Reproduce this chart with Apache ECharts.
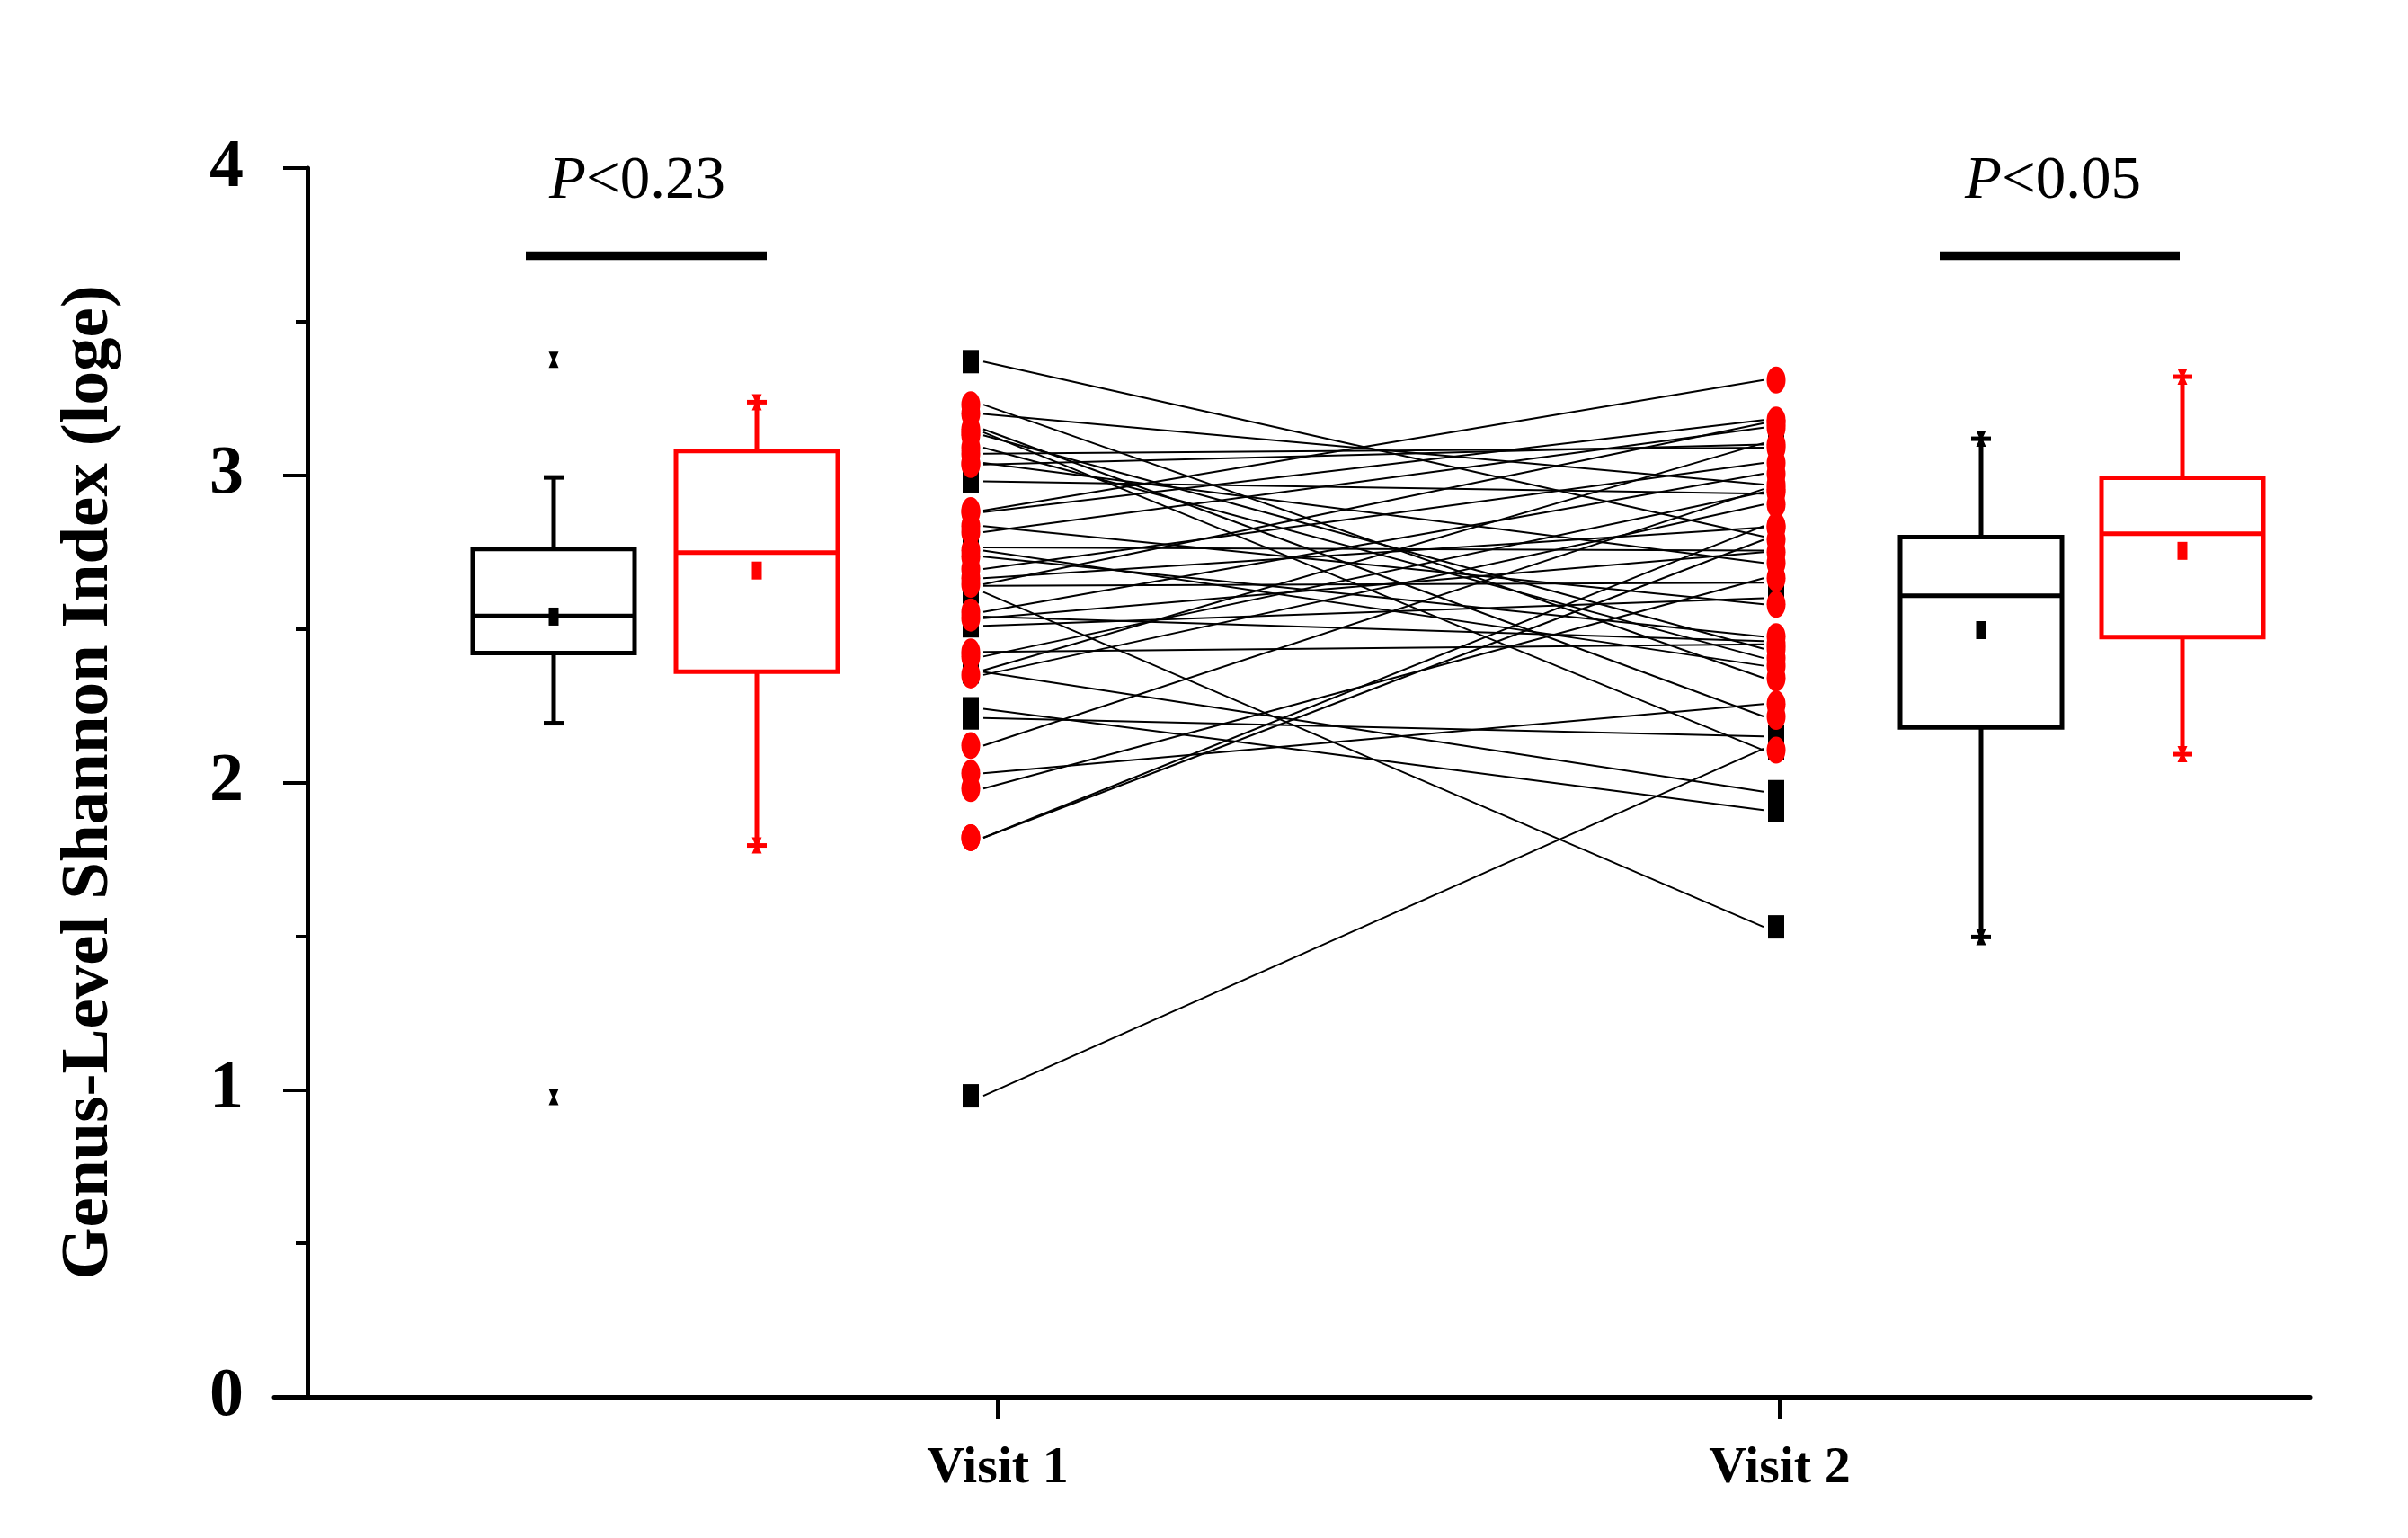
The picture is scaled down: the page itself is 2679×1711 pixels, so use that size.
<!DOCTYPE html>
<html>
<head>
<meta charset="utf-8">
<script src="https://cdn.jsdelivr.net/npm/echarts@6/dist/echarts.min.js"></script>
<style>
html,body{margin:0;padding:0;background:#ffffff;}
#c{width:2679px;height:1711px;}
</style>
</head>
<body>
<div id="c"></div>
<script>
// ---------------- data ----------------
const visitLabels = ['Visit 1', 'Visit 2'];
const yTicks = [0, 1, 2, 3, 4];
const yAxisTitle = 'Genus-Level Shannon Index (loge)';

// paired subjects: group 0 = black squares, group 1 = red circles
const subjectGroup = [0,0,0,0,0,0,0,0,0,0,0,0,
  1,1,1,1,1,1,1,1,1,1,1,1,1,1,1,1,1,1,1,1,1,1,1,1,1,1,1,1];
const visit1Values = [3.37,2.98,2.765,2.64,2.62,2.54,2.51,2.365,2.36,2.24,2.21,0.98,
  2.885,1.82,1.82,3.23,3.20,3.15,3.14,3.13,3.09,3.07,3.04,3.035,2.88,2.835,2.815,2.755,2.735,2.695,2.665,2.645,2.555,2.535,2.425,2.41,2.35,2.12,2.03,1.98];
const visit2Values = [2.80,2.94,2.755,2.65,1.53,2.46,2.60,3.105,1.97,1.91,2.15,2.11,
  3.31,2.835,2.79,2.34,2.97,2.215,2.105,2.435,2.405,3.09,2.715,3.10,3.18,2.58,3.155,2.38,2.475,3.04,2.83,3.17,3.005,2.75,2.45,2.945,2.905,2.955,2.255,2.665];

// box plots: [black V1, red V1, black V2, red V2]
const boxGroup  = [0, 1, 0, 1];
const boxLow    = [2.193, 1.795, 1.497, 2.092];
const boxQ1     = [2.421, 2.361, 2.179, 2.473];
const boxMedian = [2.542, 2.748, 2.608, 2.810];
const boxQ3     = [2.760, 3.079, 2.799, 2.992];
const boxHigh   = [2.993, 3.238, 3.119, 3.321];
const boxMean   = [2.540, 2.690, 2.496, 2.754];
const boxMin    = [0.976, 1.795, 1.497, 2.092];
const boxMax    = [3.376, 3.238, 3.119, 3.321];

const pValueLabels = ['<0.23', '<0.05'];

// ---------------- layout (x slots in axis units = px from y axis) ----------------
const X_V1 = 738, X_V2 = 1634;           // paired marker columns
const TICK_V1 = 768, TICK_V2 = 1638;     // category ticks
const BOX_X = [274, 500, 1862, 2086];    // box centers
const BOX_HALF = 90, CAP_HALF = 11, LINE_GAP = 14;
const P_TEXT_X = [367, 1942], P_BAR = [[243, 511], [1816, 2083]];
const P_TEXT_Y = 3.955, P_BAR_Y = 3.715;
const COLORS = ['#000000', '#ff0000'];
const SERIF = "'Liberation Serif', 'Times New Roman', serif";

const chart = echarts.init(document.getElementById('c'));

const pairData = visit1Values.map((v, i) => [v, visit2Values[i], subjectGroup[i]]);
const boxData = BOX_X.map((x, i) => [x, boxLow[i], boxQ1[i], boxMedian[i], boxQ3[i], boxHigh[i], boxMean[i], boxMin[i], boxMax[i], boxGroup[i]]);
const markerData = (g) => {
  const out = [];
  visit1Values.forEach((v, i) => { if (subjectGroup[i] === g) out.push([X_V1, v]); });
  visit2Values.forEach((v, i) => { if (subjectGroup[i] === g) out.push([X_V2, v]); });
  return out;
};
const ellipse = 'path://M0,50 A50,50 0 1,1 100,50 A50,50 0 1,1 0,50 Z';

function xMark(cx, cy, color) {
  return {
    type: 'polygon',
    shape: { points: [[cx - 5.5, cy - 9], [cx + 5.5, cy - 9], [cx + 1.5, cy], [cx + 5.5, cy + 9], [cx - 5.5, cy + 9], [cx - 1.5, cy]] },
    style: { fill: color }
  };
}

const option = {
  animation: false,
  backgroundColor: '#ffffff',
  grid: { left: 305, right: 109, top: 187, bottom: 1711 - 1554, containLabel: false },
  xAxis: {
    type: 'value', min: -37, max: 2228,
    axisLine: { show: true, onZero: false, lineStyle: { color: '#000', width: 5 } },
    axisTick: { show: true, customValues: [TICK_V1, TICK_V2], length: 25, lineStyle: { color: '#000', width: 4 } },
    axisLabel: {
      customValues: [TICK_V1, TICK_V2],
      formatter: (v) => (Math.abs(v - TICK_V1) < 1 ? visitLabels[0] : visitLabels[1]),
      fontFamily: SERIF, fontWeight: 'bold', fontSize: 58, color: '#000', margin: 51
    },
    splitLine: { show: false }
  },
  yAxis: {
    type: 'value', min: yTicks[0], max: yTicks[yTicks.length - 1], interval: 1,
    axisLine: { show: true, onZero: true, lineStyle: { color: '#000', width: 5 } },
    axisTick: { show: true, length: 27, lineStyle: { color: '#000', width: 4 } },
    minorTick: { show: true, splitNumber: 2, length: 13, lineStyle: { color: '#000', width: 4 } },
    axisLabel: { fontFamily: SERIF, fontWeight: 'bold', fontSize: 76, color: '#000', margin: 34 },
    splitLine: { show: false },
    name: yAxisTitle, nameLocation: 'middle', nameGap: 168,
    nameTextStyle: { fontFamily: SERIF, fontWeight: 'bold', fontSize: 75, color: '#000' }
  },
  series: [
    {
      type: 'custom', name: 'pairs', z: 1, silent: true,
      data: pairData,
      renderItem: (params, api) => {
        const a = api.coord([X_V1 + LINE_GAP, api.value(0)]);
        const b = api.coord([X_V2 - LINE_GAP, api.value(1)]);
        return { type: 'line', shape: { x1: a[0], y1: a[1], x2: b[0], y2: b[1] }, style: { stroke: '#000', lineWidth: 2 } };
      }
    },
    {
      type: 'scatter', name: 'black', z: 3, silent: true,
      symbol: 'rect', symbolSize: [18, 26], itemStyle: { color: COLORS[0], opacity: 1 },
      data: markerData(0)
    },
    {
      type: 'scatter', name: 'red', z: 4, silent: true,
      symbol: ellipse, symbolSize: [21, 30], itemStyle: { color: COLORS[1], opacity: 1 },
      data: markerData(1)
    },
    {
      type: 'custom', name: 'boxes', z: 5, silent: true,
      data: boxData,
      renderItem: (params, api) => {
        const x = api.value(0);
        const color = COLORS[api.value(9)];
        const yOf = (d) => api.coord([x, api.value(d)])[1];
        const cx = api.coord([x, 0])[0];
        const yLow = yOf(1), yQ1 = yOf(2), yMed = yOf(3), yQ3 = yOf(4), yHigh = yOf(5), yMean = yOf(6), yMin = yOf(7), yMax = yOf(8);
        const st = { stroke: color, lineWidth: 5, fill: null };
        const children = [
          { type: 'line', shape: { x1: cx, y1: yQ3, x2: cx, y2: yHigh }, style: st },
          { type: 'line', shape: { x1: cx, y1: yQ1, x2: cx, y2: yLow }, style: st },
          { type: 'line', shape: { x1: cx - CAP_HALF, y1: yHigh, x2: cx + CAP_HALF, y2: yHigh }, style: st },
          { type: 'line', shape: { x1: cx - CAP_HALF, y1: yLow, x2: cx + CAP_HALF, y2: yLow }, style: st },
          { type: 'rect', shape: { x: cx - BOX_HALF, y: yQ3, width: 2 * BOX_HALF, height: yQ1 - yQ3 }, style: { stroke: color, lineWidth: 5, fill: 'rgba(0,0,0,0)' } },
          { type: 'line', shape: { x1: cx - BOX_HALF, y1: yMed, x2: cx + BOX_HALF, y2: yMed }, style: st },
          { type: 'rect', shape: { x: cx - 5.5, y: yMean - 10, width: 11, height: 20 }, style: { fill: color } },
          xMark(cx, yMin, color),
          xMark(cx, yMax, color)
        ];
        return { type: 'group', children: children };
      }
    },
    {
      type: 'custom', name: 'pvalues', z: 6, silent: true,
      data: pValueLabels.map((t, i) => [P_TEXT_X[i], P_TEXT_Y]),
      renderItem: (params, api) => {
        const i = params.dataIndex;
        const t = api.coord([P_TEXT_X[i], P_TEXT_Y]);
        const b1 = api.coord([P_BAR[i][0], P_BAR_Y]);
        const b2 = api.coord([P_BAR[i][1], P_BAR_Y]);
        return {
          type: 'group', children: [
            { type: 'line', shape: { x1: b1[0], y1: b1[1], x2: b2[0], y2: b2[1] }, style: { stroke: '#000', lineWidth: 9.5 } },
            {
              type: 'text', x: t[0], y: t[1],
              style: {
                text: '{i|P}{n|' + pValueLabels[i] + '}',
                align: 'center', verticalAlign: 'middle',
                rich: {
                  i: { fontFamily: SERIF, fontSize: 67, fontStyle: 'italic', fill: '#000' },
                  n: { fontFamily: SERIF, fontSize: 67, fill: '#000' }
                }
              }
            }
          ]
        };
      }
    }
  ]
};
chart.setOption(option);
</script>
</body>
</html>
